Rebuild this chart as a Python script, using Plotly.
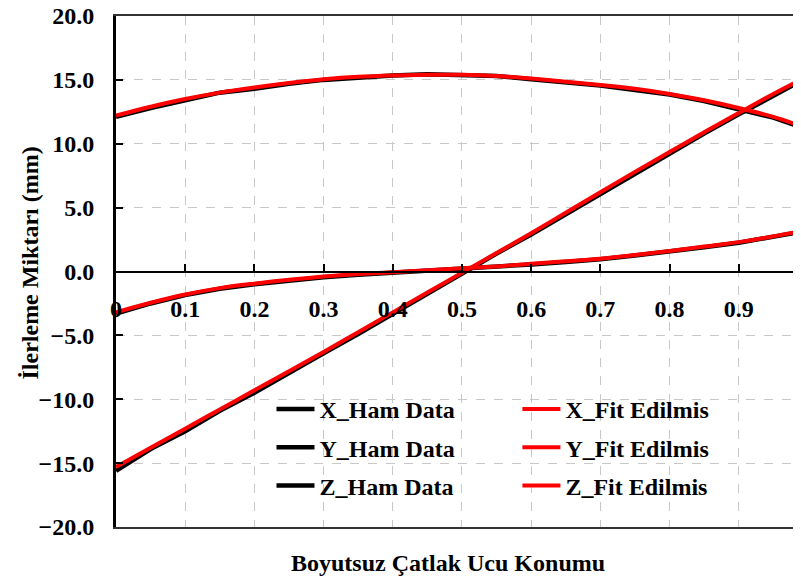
import plotly.graph_objects as go

# Dimensionless crack tip position
x_pos = [0.0, 0.05, 0.1, 0.15, 0.2, 0.25, 0.3, 0.35, 0.4, 0.45, 0.5,
         0.55, 0.6, 0.65, 0.7, 0.75, 0.8, 0.85, 0.9, 0.95, 1.0]

# Raw data (Ham Data)
x_ham = [-15.6, -13.9, -12.5, -10.9, -9.5, -7.9, -6.4, -4.9, -3.3, -1.7, -0.2,
         1.4, 2.9, 4.5, 6.1, 7.7, 9.3, 10.8, 12.3, 13.8, 15.2]
y_ham = [12.1, 12.8, 13.4, 14.0, 14.3, 14.7, 15.0, 15.2, 15.35, 15.45, 15.35,
         15.3, 15.05, 14.8, 14.55, 14.2, 13.85, 13.35, 12.7, 12.05, 11.1]
z_ham = [-3.3, -2.5, -1.85, -1.35, -1.0, -0.7, -0.45, -0.25, -0.1, 0.05, 0.2,
         0.35, 0.55, 0.75, 0.95, 1.25, 1.55, 1.9, 2.25, 2.7, 3.2]

# Fitted curves (Fit Edilmis)
x_fit = [-15.3, -13.8, -12.3, -10.8, -9.3, -7.8, -6.3, -4.75, -3.2, -1.65, -0.1,
         1.45, 3.0, 4.6, 6.2, 7.8, 9.35, 10.9, 12.4, 13.9, 15.3]
y_fit = [12.2, 12.9, 13.5, 14.0, 14.4, 14.75, 15.05, 15.25, 15.35, 15.4, 15.4,
         15.3, 15.1, 14.85, 14.6, 14.3, 13.9, 13.4, 12.8, 12.1, 11.2]
z_fit = [-3.2, -2.45, -1.8, -1.3, -0.95, -0.65, -0.4, -0.2, -0.05, 0.1, 0.25,
         0.4, 0.6, 0.8, 1.0, 1.3, 1.6, 1.95, 2.3, 2.75, 3.25]

x_ticks = [0.0, 0.1, 0.2, 0.3, 0.4, 0.5, 0.6, 0.7, 0.8, 0.9]
x_tick_text = ["0", "0.1", "0.2", "0.3", "0.4", "0.5", "0.6", "0.7", "0.8", "0.9"]

FONT = "Liberation Serif"


def main():
    fig = go.Figure()

    # Raw data in black, drawn first so the fits sit on top
    for name, vals in [("X_Ham Data", x_ham), ("Y_Ham Data", y_ham), ("Z_Ham Data", z_ham)]:
        fig.add_trace(go.Scatter(
            x=x_pos, y=vals, mode="lines", name=name,
            line=dict(color="black", width=4.5),
            legend="legend", legendgroup=name,
        ))

    for name, vals in [("X_Fit Edilmis", x_fit), ("Y_Fit Edilmis", y_fit), ("Z_Fit Edilmis", z_fit)]:
        fig.add_trace(go.Scatter(
            x=x_pos, y=vals, mode="lines", name=name,
            line=dict(color="#ff0000", width=4, shape="spline"),
            legend="legend2", legendgroup=name,
        ))

    # dummy trace so the axis crossing at y=0 gets drawn
    fig.add_trace(go.Scatter(x=[0.5], y=[None], xaxis="x2", showlegend=False, hoverinfo="skip"))

    xr = [0, 0.99]
    grid = dict(showgrid=True, gridcolor="#c8c8c8", gridwidth=1, griddash="dash")

    # page body has an 8px margin, so the figure is 8px smaller each way
    fig.update_layout(
        width=793, height=577,
        paper_bgcolor="white", plot_bgcolor="white",
        margin=dict(l=108, r=0, t=8, b=58),
        font=dict(family=FONT, size=24, color="black", weight="bold"),
        xaxis=dict(range=xr, tickvals=x_ticks, showticklabels=False, ticks="",
                   showline=True, linecolor="#333333", linewidth=2, mirror=True,
                   zeroline=False, automargin=False, **grid),
        xaxis2=dict(range=xr, overlaying="x", anchor="free", position=0.5,
                    tickvals=x_ticks, ticktext=x_tick_text, ticks="inside",
                    ticklen=7, tickwidth=2, tickcolor="black",
                    showline=True, linecolor="black", linewidth=2,
                    showgrid=False, zeroline=False, ticklabelstandoff=16,
                    automargin=False,
                    tickfont=dict(family=FONT, size=24, weight="bold")),
        yaxis=dict(range=[-20, 20], dtick=5, tickformat=".1f", ticks="inside",
                   ticklen=7, tickwidth=2, tickcolor="black",
                   showline=True, linecolor="black", linewidth=3,
                   zeroline=False, ticklabelstandoff=14, ticklabeloverflow="allow",
                   automargin=False, **grid),
        legend=dict(x=0.227, y=0.274, xanchor="left", yanchor="top",
                    bgcolor="rgba(0,0,0,0)", tracegroupgap=4, itemwidth=38,
                    font=dict(family=FONT, size=24, weight="bold")),
        legend2=dict(x=0.586, y=0.274, xanchor="left", yanchor="top",
                     bgcolor="rgba(0,0,0,0)", tracegroupgap=4, itemwidth=38,
                     font=dict(family=FONT, size=24, weight="bold")),
        annotations=[
            dict(text="İlerleme Miktarı (mm)", textangle=-90, xref="paper", yref="paper",
                 x=-0.126, y=0.517, xanchor="center", yanchor="middle", showarrow=False,
                 font=dict(family=FONT, size=24, weight="bold")),
            dict(text="Boyutsuz Çatlak Ucu Konumu", xref="paper", yref="paper",
                 x=0.485, y=-0.070, xanchor="center", yanchor="middle", showarrow=False,
                 font=dict(family=FONT, size=24, weight="bold")),
        ],
    )

    fig.write_html("out.html")


if __name__ == "__main__":
    main()
